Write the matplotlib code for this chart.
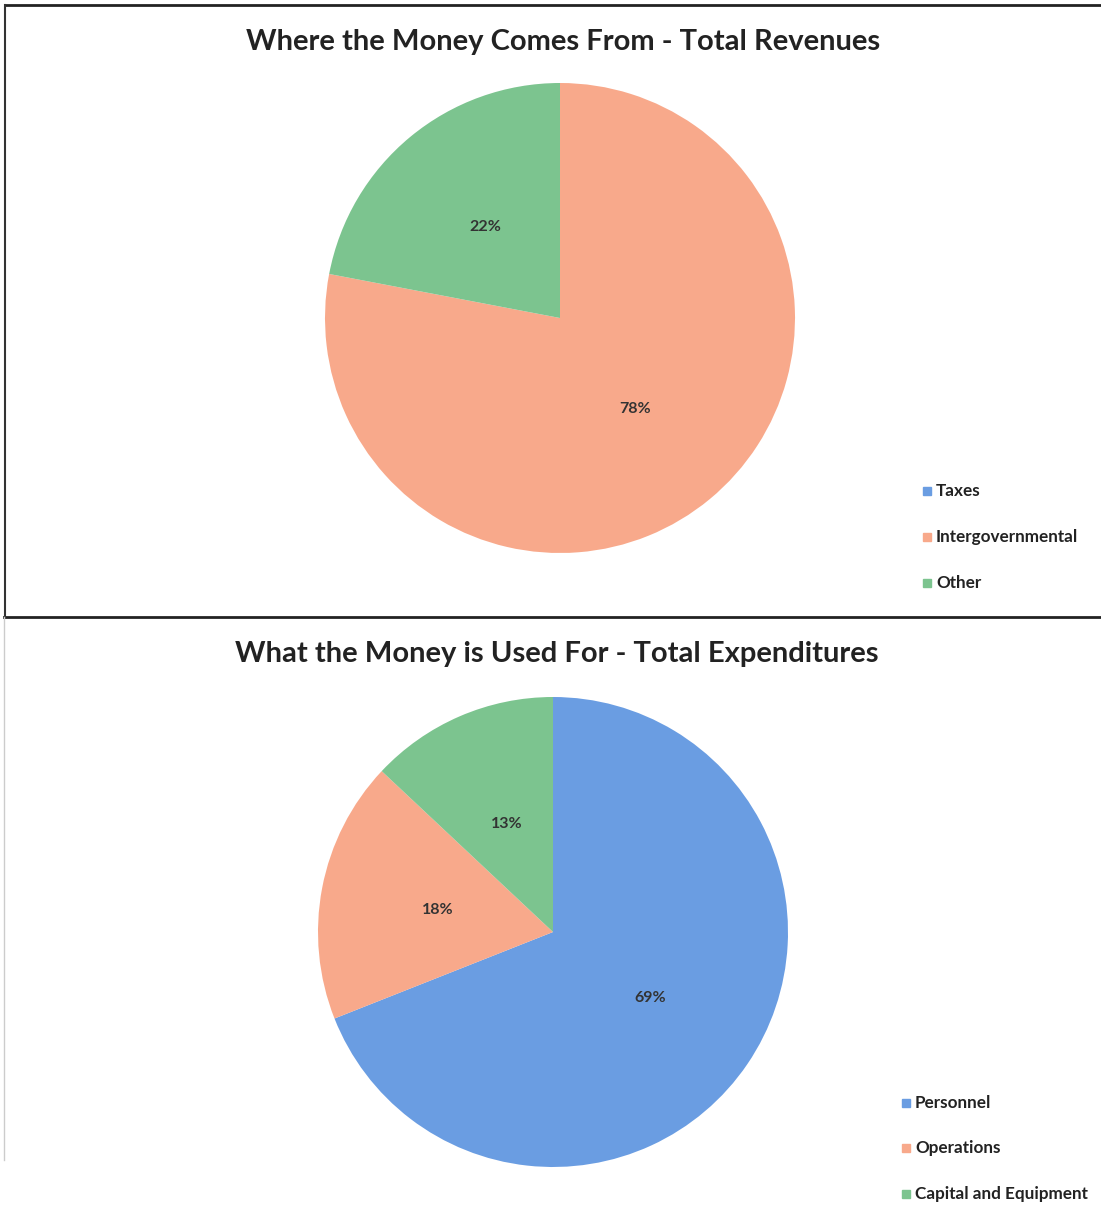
import matplotlib.pyplot as plt
from matplotlib.lines import Line2D

plt.rcParams['font.family'] = ['Lato', 'DejaVu Sans']

rev_labels = ['Taxes', 'Intergovernmental', 'Other']
rev_values = [0, 78, 22]
exp_labels = ['Personnel', 'Operations', 'Capital and Equipment']
exp_values = [69, 18, 13]
colors = ['#6a9de2', '#f8a98b', '#7cc48f']

W, H = 1101, 1228
fig = plt.figure(figsize=(W / 100, H / 100), dpi=100)


def px_axes(cx, cy, r):
    return fig.add_axes([(cx - r) / W, (H - cy - r) / H, 2 * r / W, 2 * r / H])


def pct(p):
    return '%d%%' % round(p) if p > 0.5 else ''


def draw_pie(ax, values):
    ax.pie(values, colors=colors, startangle=90, counterclock=False,
           autopct=pct, pctdistance=0.5, radius=1,
           wedgeprops=dict(linewidth=0),
           textprops=dict(fontsize=11.5, fontweight='bold', color='#333333'))
    ax.set_xlim(-1, 1)
    ax.set_ylim(-1, 1)
    ax.axis('off')


ax1 = px_axes(560, 318, 235)
draw_pie(ax1, rev_values)
ax2 = px_axes(553, 932, 235)
draw_pie(ax2, exp_values)

# titles
fig.text(563 / W, 1 - 42 / H, 'Where the Money Comes From - Total Revenues', ha='center', va='center',
         fontsize=21, fontweight='bold', color='#222222')
fig.text(557 / W, 1 - 654 / H, 'What the Money is Used For - Total Expenditures', ha='center', va='center',
         fontsize=21, fontweight='bold', color='#222222')


# legends
def draw_legend(x, ys, labels):
    for lab, y, c in zip(labels, ys, colors):
        fig.patches.append(plt.Rectangle(((x - 4) / W, 1 - (y + 4) / H), 8 / W, 8 / H,
                                         transform=fig.transFigure, color=c))
        fig.text((x + 9) / W, 1 - y / H, lab, ha='left', va='center',
                 fontsize=12.3, fontweight='bold', color='#222222')


draw_legend(927, [491, 537, 583], rev_labels)
draw_legend(906, [1103, 1148, 1194], exp_labels)

# panel borders
fig.add_artist(Line2D([6 / W, 1], [1 - 5 / H, 1 - 5 / H], color='#222222', lw=2))
fig.add_artist(Line2D([4 / W, 1], [1 - 617 / H, 1 - 617 / H], color='#222222', lw=2))
fig.add_artist(Line2D([5 / W, 5 / W], [1 - 5 / H, 1 - 617 / H], color='#333333', lw=1.5))
fig.add_artist(Line2D([4 / W, 4 / W], [1 - 617 / H, 1 - 1160 / H], color='#cccccc', lw=1))

fig.savefig('out.png', dpi=100)
